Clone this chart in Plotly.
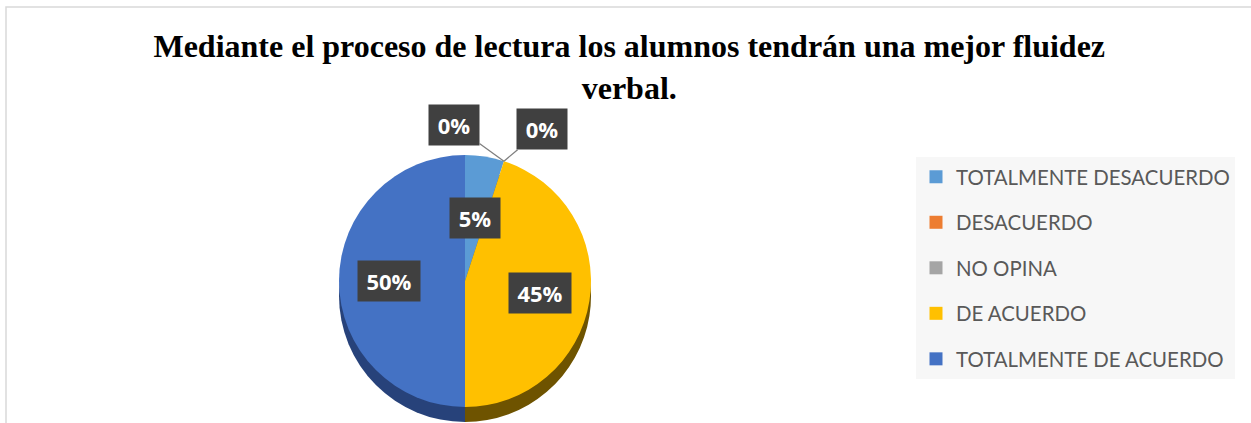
import math
import plotly.graph_objects as go

# ---- data ----
categories = ["TOTALMENTE DESACUERDO", "DESACUERDO", "NO OPINA", "DE ACUERDO", "TOTALMENTE DE ACUERDO"]
values = [5, 0, 0, 45, 50]
colors = ["#5b9bd5", "#ed7d31", "#a5a5a5", "#ffc000", "#4472c4"]
side_colors = ["#2e5b8c", "#8a4318", "#5c5c5c", "#6e5300", "#27427a"]
title_text = "Mediante el proceso de lectura los alumnos tendrán una mejor fluidez<br>verbal."

W, H = 1251, 423
CX, CY, R, DEPTH = 465, 281, 126, 15


def px_x(x):
    return x / W


def px_y(y):
    return 1 - y / H


fig = go.Figure()

# side (depth) of the pie
fig.add_trace(go.Pie(
    labels=categories, values=values, sort=False, direction="clockwise", rotation=0,
    marker=dict(colors=side_colors, line=dict(width=0)), textinfo="none", hoverinfo="skip",
    showlegend=False,
    domain=dict(x=[px_x(CX - R), px_x(CX + R)], y=[px_y(CY + DEPTH + R), px_y(CY + DEPTH - R)]),
))
# top face
fig.add_trace(go.Pie(
    labels=categories, values=values, sort=False, direction="clockwise", rotation=0,
    marker=dict(colors=colors, line=dict(width=0)), textinfo="none",
    showlegend=False,
    domain=dict(x=[px_x(CX - R), px_x(CX + R)], y=[px_y(CY + R), px_y(CY - R)]),
))

# legend entries
for i, (c, col) in enumerate(zip(categories, colors)):
    fig.add_trace(go.Scatter(
        x=[None], y=[None], mode="markers", name=c, legendgroup=f"g{i}",
        marker=dict(symbol="square", size=13, color=col),
    ))

# data labels computed from values
total = sum(values)
cum = 0
box_w = {2: 50, 3: 62}
label_box = dict(bgcolor="#404040", borderpad=0, height=40, xanchor="center", yanchor="middle",
                 font=dict(family="Open Sans", size=22, color="white", weight="bold"))
zero_offsets = [(-50, -36), (38, -32)]
zi = 0
for v in values:
    pct = round(100 * v / total)
    txt = f"{pct}%"
    start = cum / total * 2 * math.pi
    mid = (cum + v / 2) / total * 2 * math.pi
    cum += v
    if v > 0:
        f = 0.6 if v / total > 0.1 else 0.51
        x = CX + f * R * math.sin(mid)
        y = CY - f * R * math.cos(mid)
        fig.add_annotation(x=px_x(x), y=px_y(y), xref="paper", yref="paper",
                           text=txt, showarrow=False, width=box_w[len(txt)], **label_box)
    else:
        x = CX + R * math.sin(start)
        y = CY - R * math.cos(start)
        ax, ay = zero_offsets[zi % 2]
        zi += 1
        fig.add_annotation(x=px_x(x), y=px_y(y), xref="paper", yref="paper",
                           text=txt, showarrow=True, arrowhead=0, arrowwidth=1.3,
                           arrowcolor="#7f7f7f", ax=ax, ay=ay, width=box_w[len(txt)], **label_box)

# chart border
fig.add_shape(type="rect", xref="paper", yref="paper",
              x0=px_x(6), x1=1.05, y0=-0.05, y1=px_y(7),
              line=dict(color="#d9d9d9", width=1.5), fillcolor="rgba(0,0,0,0)", layer="below")

fig.update_layout(
    width=W, height=H,
    margin=dict(l=0, r=0, t=0, b=0),
    paper_bgcolor="white", plot_bgcolor="white",
    title=dict(text=title_text, x=0.503, xanchor="center", y=px_y(57), yanchor="top",
               font=dict(family="Liberation Serif", size=32, color="black", weight="bold")),
    xaxis=dict(visible=False), yaxis=dict(visible=False),
    legend=dict(x=px_x(916), xanchor="left", y=px_y(157), yanchor="top",
                bgcolor="#f7f7f7", tracegroupgap=16,
                font=dict(family="Lato", size=20.4, color="#595959")),
)

fig.write_html("out.html", config={"displayModeBar": False},
               post_script="document.body.style.margin='0';")
